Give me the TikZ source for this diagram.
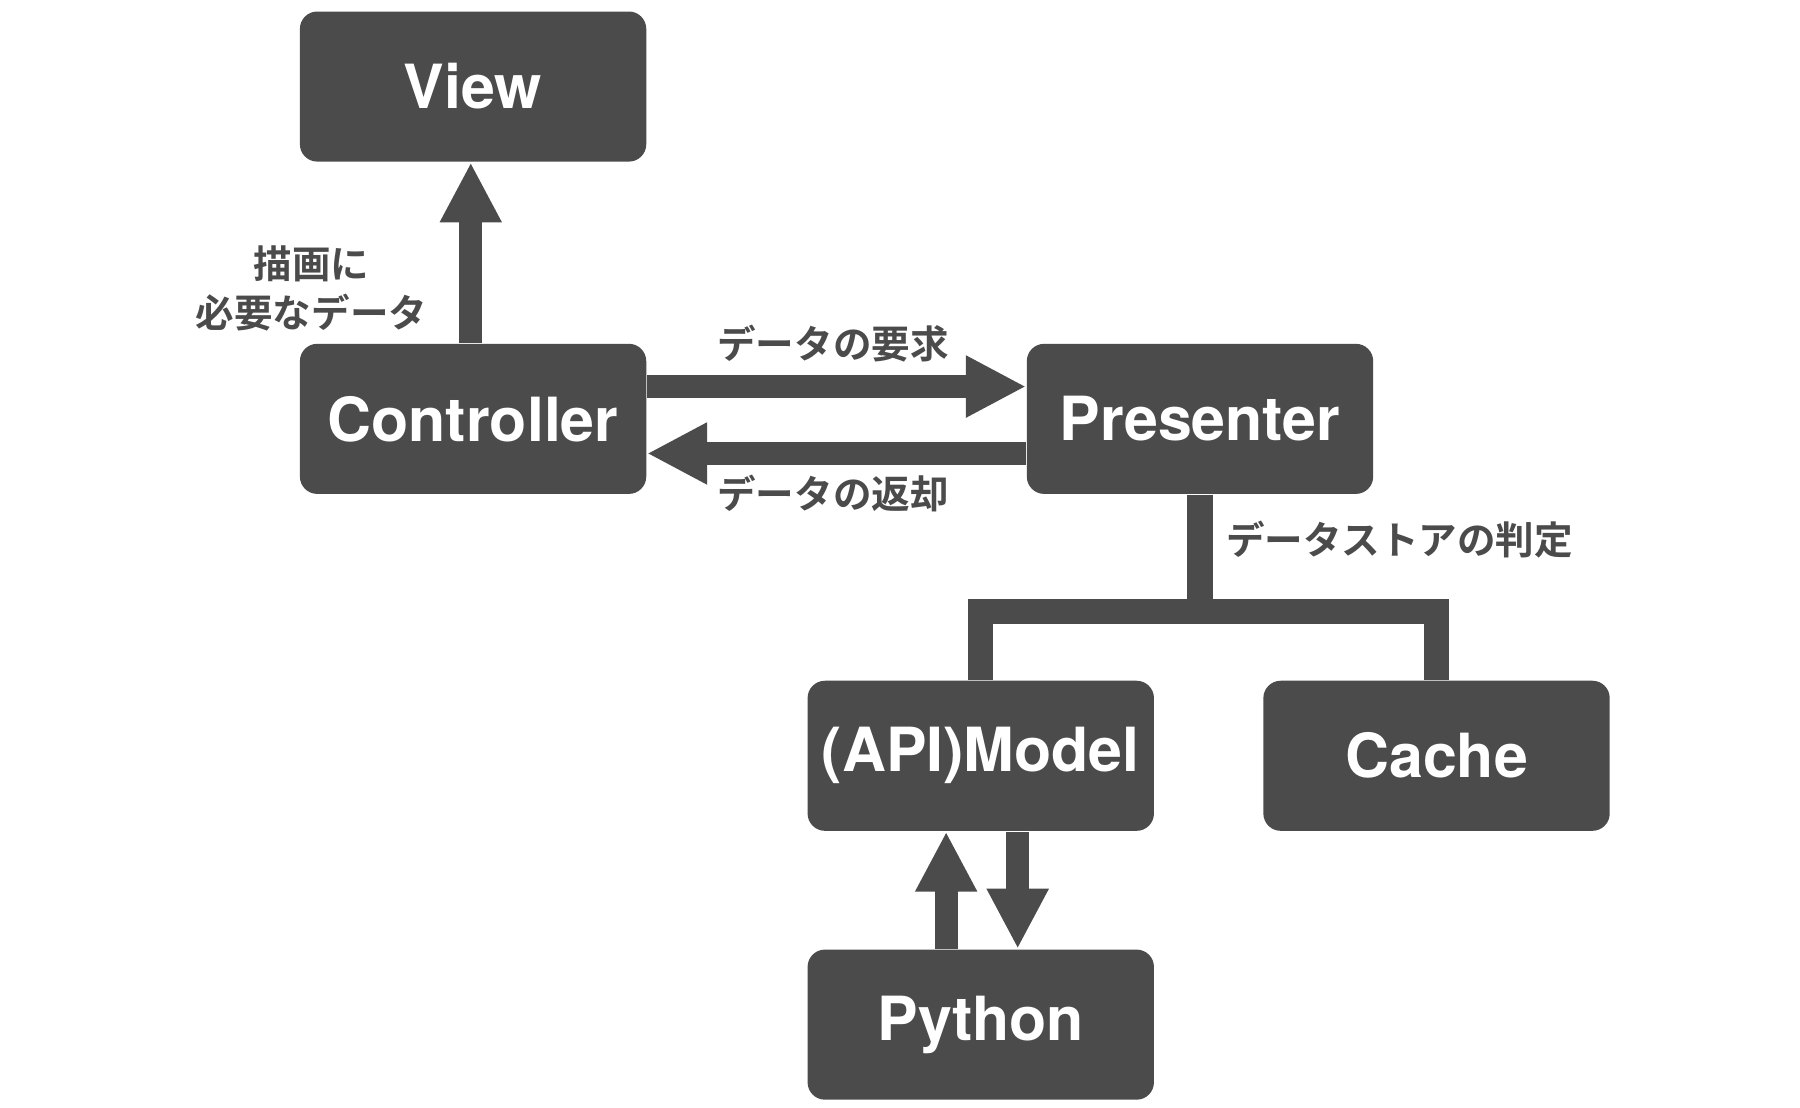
\documentclass[tikz,border=0pt]{standalone}
\usepackage{fontspec}
\setmainfont{TeX Gyre Heros}
\newfontfamily\jpfont{Noto Sans CJK JP Bold}
\usetikzlibrary{arrows.meta}
\usetikzlibrary{calc}
\definecolor{boxgray}{HTML}{4B4B4B}
\begin{document}
\begin{tikzpicture}[x=0.01cm, y=-0.01cm,
        box_style/.style={rectangle, rounded corners=0.15cm, fill=boxgray, text=white,
            minimum width=3cm, minimum height=1.3cm, font=\fontsize{15}{18}\selectfont\bfseries},
        label_style/.style={text=boxgray, font=\jpfont\fontsize{9.5}{12}\selectfont, align=center},
        arrow_style/.style={draw=boxgray, line width=0.2cm, -{Triangle[length=0.52cm, width=0.5cm]}},
        line_style/.style={draw=boxgray, line width=0.22cm}]
        \useasboundingbox (0,0) rectangle (1560,960);

        \node [box_style](view) at (410,75) {View};
        \node [box_style](ctrl) at (410,363) {Controller};
        \node [box_style](pres) at (1040,363) {Presenter};
        \node [box_style](model) at (850,655) {(API)Model};
        \node [box_style](cache) at (1245,655) {Cache};
        \node [box_style](py) at (850,888) {Python};

        \draw [arrow_style] (ctrl.north -| 408,0) -- (view.south -| 408,0);
        \draw [arrow_style] (ctrl.east |- 0,335) -- (pres.west |- 0,335);
        \draw [arrow_style] (pres.west |- 0,393) -- (ctrl.east |- 0,393);
        \draw [arrow_style] (py.north -| 820,0) -- (model.south -| 820,0);
        \draw [arrow_style] (model.south -| 882,0) -- (py.north -| 882,0);

        \coordinate (fork) at (1040,530);
        \draw [line_style] (pres.south) -- (fork);
        \draw [line_style] (model.north) |- (fork) -| (cache.north);

        \node [label_style] at (270,250) {描画に\\必要なデータ};
        \node [label_style] at (722,298) {データの要求};
        \node [label_style] at (722,428) {データの返却};
        \node [label_style] at (1213,468) {データストアの判定};
\end{tikzpicture}
\end{document}
